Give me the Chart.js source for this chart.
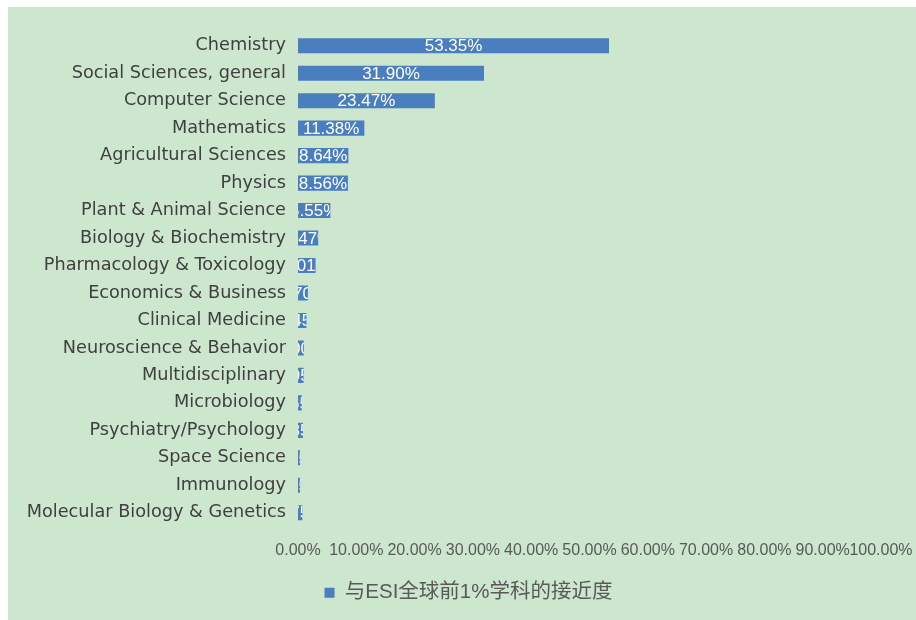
<!DOCTYPE html>
<html>
<head>
<meta charset="utf-8">
<script src="https://cdn.jsdelivr.net/npm/chart.js@4/dist/chart.umd.min.js"></script>
<style>
  html, body { margin: 0; padding: 0; background: #fff; }
  #wrap { position: absolute; left: 8px; top: 7px; width: 908px; height: 613px; background: #cce7ce; }
</style>
</head>
<body>
<div id="wrap"><canvas id="esiChart" width="908" height="613"></canvas></div>
<script>
const subjects = [
    'Chemistry', 'Social Sciences, general', 'Computer Science', 'Mathematics',
    'Agricultural Sciences', 'Physics', 'Plant & Animal Science', 'Biology & Biochemistry',
    'Pharmacology & Toxicology', 'Economics & Business', 'Clinical Medicine',
    'Neuroscience & Behavior', 'Multidisciplinary', 'Microbiology', 'Psychiatry/Psychology',
    'Space Science', 'Immunology', 'Molecular Biology & Genetics'
];
const closeness = [
    53.35, 31.90, 23.47, 11.38, 8.64, 8.56, 5.55, 3.47, 3.01,
    1.70, 1.45, 1.00, 0.95, 0.65, 0.85, 0.35, 0.35, 0.75
];
const seriesName = '与ESI全球前1%学科的接近度';
const xTicks = [0, 10, 20, 30, 40, 50, 60, 70, 80, 90, 100];

const textFont = '"Liberation Sans", Arial, "Noto Sans CJK SC", sans-serif';
const labelFont = '"DejaVu Sans", "Liberation Sans", sans-serif';

// white value labels, clipped to each bar like the spreadsheet does
const barLabels = {
    id: 'barLabels',
    afterDatasetsDraw(chart) {
        const ctx = chart.ctx;
        const meta = chart.getDatasetMeta(0);
        meta.data.forEach((bar, i) => {
            const left = Math.min(bar.base, bar.x);
            const w = Math.abs(bar.x - bar.base);
            const h = bar.height;
            ctx.save();
            ctx.beginPath();
            ctx.rect(left, bar.y - h / 2 - 1, w, h + 2);
            ctx.clip();
            ctx.fillStyle = '#ffffff';
            ctx.font = '17px ' + textFont;
            ctx.textAlign = 'center';
            ctx.textBaseline = 'middle';
            ctx.fillText(closeness[i].toFixed(2) + '%', left + w / 2, bar.y + 1);
            ctx.restore();
        });
    }
};

// nudge the legend a little to the right of the canvas centre
const legendShift = {
    id: 'legendShift',
    afterLayout(chart) {
        chart.legend.left += 24;
        chart.legend.right += 24;
    }
};

new Chart(document.getElementById('esiChart'), {
    type: 'bar',
    data: {
        labels: subjects,
        datasets: [{
            label: seriesName,
            data: closeness,
            backgroundColor: '#4a7ebe',
            barPercentage: 0.55,
            categoryPercentage: 1.0
        }]
    },
    options: {
        indexAxis: 'y',
        responsive: false,
        animation: false,
        layout: { padding: { top: 25, right: 35, bottom: 7, left: 0 } },
        scales: {
            x: {
                min: 0,
                max: 100,
                afterBuildTicks: (scale) => { scale.ticks = xTicks.map(v => ({ value: v })); },
                afterFit: (scale) => {
                    scale.height = 46;
                    scale.paddingLeft = 0;
                    scale.paddingRight = 0;
                },
                grid: { display: false, drawTicks: false },
                border: { display: false },
                ticks: {
                    padding: 14,
                    maxRotation: 0,
                    autoSkip: false,
                    color: '#595959',
                    font: { size: 16, family: textFont },
                    callback: (v) => v.toFixed(2) + '%'
                }
            },
            y: {
                afterFit: (scale) => { scale.width = 290; },
                grid: { display: false, drawTicks: false },
                border: { display: false },
                ticks: {
                    padding: 12,
                    autoSkip: false,
                    color: '#404040',
                    font: { size: 17.7, family: labelFont }
                }
            }
        },
        plugins: {
            legend: {
                position: 'bottom',
                labels: {
                    boxWidth: 10,
                    boxHeight: 10,
                    padding: 10,
                    color: '#595959',
                    font: { size: 20.5, family: textFont }
                }
            },
            tooltip: { enabled: false }
        }
    },
    plugins: [barLabels, legendShift]
});
</script>
</body>
</html>
